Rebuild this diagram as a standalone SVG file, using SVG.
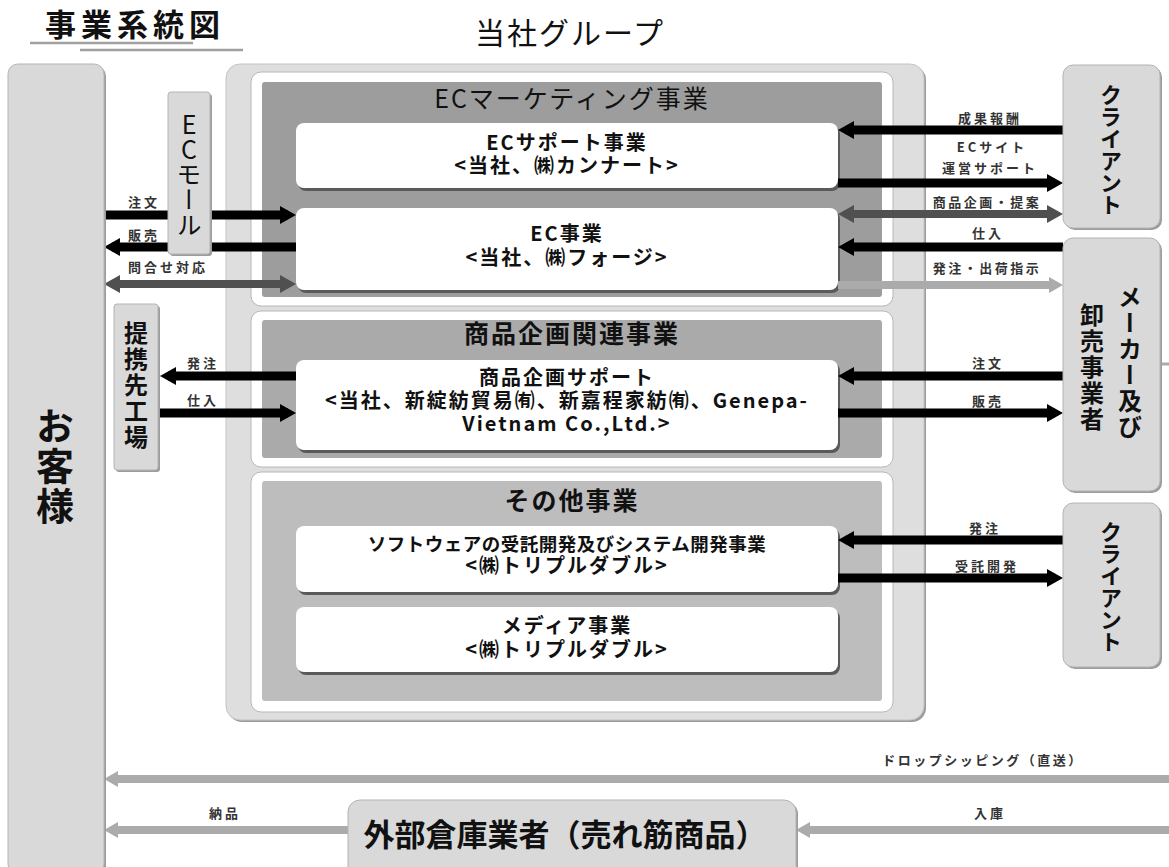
<svg xmlns="http://www.w3.org/2000/svg" width="1169" height="867" viewBox="0 0 1169 867">
<style>
text{font-family:"Noto Sans CJK JP","Noto Sans",sans-serif;fill:#111}
.vt{writing-mode:vertical-rl;text-orientation:upright;text-anchor:start}
.side{fill:#d9d9d9;stroke:#b4b4b4;stroke-width:1}
.sh{fill:#9c9c9c}
.wbox{fill:#fff}
.wsh{fill:#5a5a5a}
.bt{font-size:20px;font-weight:bold;text-anchor:middle;letter-spacing:2px}
.sec{font-size:25px;text-anchor:middle;letter-spacing:2px}
.lb{font-size:13px;font-weight:bold;fill:#333;text-anchor:middle;letter-spacing:3px}
.lb2{font-size:13px;font-weight:bold;fill:#333;text-anchor:middle;letter-spacing:2.5px}
.ab{stroke:#000;stroke-width:9;fill:none}
.ad{stroke:#505050;stroke-width:8;fill:none}
.al{stroke:#ababab;stroke-width:8;fill:none}
</style>
<defs>
<marker id="mB" markerUnits="userSpaceOnUse" markerWidth="16" markerHeight="18" refX="8" refY="9" orient="auto-start-reverse" viewBox="0 0 16 18"><path d="M0,0 L16,9 L0,18 z" fill="#000"/></marker>
<marker id="mD" markerUnits="userSpaceOnUse" markerWidth="16" markerHeight="18" refX="8" refY="9" orient="auto-start-reverse" viewBox="0 0 16 18"><path d="M0,0 L16,9 L0,18 z" fill="#505050"/></marker>
<marker id="mL" markerUnits="userSpaceOnUse" markerWidth="14" markerHeight="16" refX="7" refY="8" orient="auto-start-reverse" viewBox="0 0 14 16"><path d="M0,0 L14,8 L0,16 z" fill="#ababab"/></marker>
</defs>
<rect width="1169" height="867" fill="#fff"/>

<g id="title">
<text x="45" y="36" style="font-size:31px;font-weight:bold;letter-spacing:5px">事業系統図</text>
<line x1="30" y1="43" x2="193" y2="43" stroke="#a0a0a0" stroke-width="2.5"/>
<line x1="80" y1="50" x2="243" y2="50" stroke="#a0a0a0" stroke-width="2.5"/>
</g>

<g id="group-company">
<rect x="228" y="66" width="698" height="656" rx="14" class="sh"/>
<rect x="226" y="64" width="698" height="656" rx="14" fill="#dedede" stroke="#c4c4c4"/>
<text x="570" y="44" style="font-size:30px;text-anchor:middle;letter-spacing:2px">当社グループ</text>
</g>

<g id="sec-ec">
<rect x="251" y="72" width="642" height="234" rx="10" fill="#fff" stroke="#b8b8b8"/>
<rect x="262" y="82" width="620" height="215" rx="3" fill="#9d9d9d"/>
<text x="572" y="108" class="sec">ECマーケティング事業</text>
</g>
<g id="sec-plan">
<rect x="251" y="311" width="642" height="156" rx="10" fill="#fff" stroke="#b8b8b8"/>
<rect x="262" y="320" width="620" height="138" rx="3" fill="#aaaaaa"/>
<text x="572" y="343" class="sec" style="font-weight:bold">商品企画関連事業</text>
</g>
<g id="sec-other">
<rect x="251" y="472" width="642" height="240" rx="10" fill="#fff" stroke="#b8b8b8"/>
<rect x="262" y="481" width="620" height="220" rx="3" fill="#bdbdbd"/>
<text x="572" y="510" class="sec" style="font-weight:bold">その他事業</text>
</g>

<g id="ec-support">
<rect x="298" y="126" width="542" height="65" rx="8" class="wsh"/>
<rect x="296" y="123" width="542" height="65" rx="8" class="wbox"/>
<text class="bt"><tspan x="567" y="150">ECサポート事業</tspan><tspan x="567" y="173">&lt;当社、㈱カンナート&gt;</tspan></text>
</g>
<g id="ec-business">
<rect x="298" y="211" width="542" height="82" rx="8" class="wsh"/>
<rect x="296" y="208" width="542" height="82" rx="8" class="wbox"/>
<text class="bt"><tspan x="567" y="241">EC事業</tspan><tspan x="567" y="265">&lt;当社、㈱フォージ&gt;</tspan></text>
</g>
<g id="plan-support">
<rect x="298" y="363" width="542" height="90" rx="8" class="wsh"/>
<rect x="296" y="360" width="542" height="90" rx="8" class="wbox"/>
<text class="bt"><tspan x="567" y="385">商品企画サポート</tspan><tspan x="567" y="408">&lt;当社、新綻紡貿易㈲、新嘉程家紡㈲、Genepa-</tspan><tspan x="567" y="431">Vietnam Co.,Ltd.&gt;</tspan></text>
</g>
<g id="software">
<rect x="298" y="529" width="542" height="66" rx="8" class="wsh"/>
<rect x="296" y="526" width="542" height="66" rx="8" class="wbox"/>
<text class="bt"><tspan x="567" y="551" style="font-size:18.5px;letter-spacing:0.5px">ソフトウェアの受託開発及びシステム開発事業</tspan><tspan x="567" y="573">&lt;㈱トリプルダブル&gt;</tspan></text>
</g>
<g id="media">
<rect x="298" y="610" width="542" height="65" rx="8" class="wsh"/>
<rect x="296" y="607" width="542" height="65" rx="8" class="wbox"/>
<text class="bt"><tspan x="567" y="633">メディア事業</tspan><tspan x="567" y="657">&lt;㈱トリプルダブル&gt;</tspan></text>
</g>

<g id="connectors">
<line x1="1063" y1="130" x2="846" y2="130" class="ab" marker-end="url(#mB)"/>
<line x1="838" y1="183" x2="1055" y2="183" class="ab" marker-end="url(#mB)"/>
<line x1="846" y1="214" x2="1055" y2="214" class="ad" marker-start="url(#mD)" marker-end="url(#mD)"/>
<line x1="1063" y1="247" x2="846" y2="247" class="ab" marker-end="url(#mB)"/>
<line x1="838" y1="285" x2="1056" y2="285" class="al" marker-end="url(#mL)"/>
<line x1="104" y1="215" x2="288" y2="215" class="ab" marker-end="url(#mB)"/>
<line x1="296" y1="247" x2="112" y2="247" class="ab" marker-end="url(#mB)"/>
<line x1="112" y1="284" x2="288" y2="284" class="ad" marker-start="url(#mD)" marker-end="url(#mD)"/>
<line x1="296" y1="376" x2="168" y2="376" class="ab" marker-end="url(#mB)"/>
<line x1="160" y1="413" x2="288" y2="413" class="ab" marker-end="url(#mB)"/>
<line x1="1063" y1="376" x2="846" y2="376" class="ab" marker-end="url(#mB)"/>
<line x1="838" y1="413" x2="1055" y2="413" class="ab" marker-end="url(#mB)"/>
<line x1="1063" y1="540" x2="846" y2="540" class="ab" marker-end="url(#mB)"/>
<line x1="838" y1="578" x2="1055" y2="578" class="ab" marker-end="url(#mB)"/>
<line x1="1169" y1="779" x2="111" y2="779" class="al" marker-end="url(#mL)"/>
<line x1="348" y1="830" x2="111" y2="830" class="al" marker-end="url(#mL)"/>
<line x1="1169" y1="830" x2="803" y2="830" class="al" marker-end="url(#mL)"/>
<line x1="1160" y1="364" x2="1169" y2="364" stroke="#ababab" stroke-width="3"/>
<text x="990" y="123" class="lb">成果報酬</text>
<text class="lb"><tspan x="992" y="152">ECサイト</tspan><tspan x="990" y="173">運営サポート</tspan></text>
<text x="987" y="207" class="lb2">商品企画・提案</text>
<text x="988" y="238" class="lb">仕入</text>
<text x="987" y="273" class="lb2">発注・出荷指示</text>
<text x="144" y="207" class="lb">注文</text>
<text x="144" y="240" class="lb">販売</text>
<text x="168" y="272" class="lb">問合せ対応</text>
<text x="203" y="368" class="lb">発注</text>
<text x="203" y="405" class="lb">仕入</text>
<text x="988" y="368" class="lb">注文</text>
<text x="988" y="406" class="lb">販売</text>
<text x="985" y="533" class="lb">発注</text>
<text x="987" y="571" class="lb">受託開発</text>
<text x="983" y="765" class="lb2">ドロップシッピング（直送）</text>
<text x="225" y="818" class="lb">納品</text>
<text x="990" y="818" class="lb">入庫</text>
</g>

<g id="customer">
<rect x="10" y="66" width="96" height="810" rx="10" class="sh"/>
<rect x="8" y="64" width="96" height="810" rx="10" class="side"/>
<text x="55" y="407" class="vt" style="font-size:38px;font-weight:bold;letter-spacing:2px">お客様</text>
</g>
<g id="ec-mall">
<rect x="170" y="94" width="42" height="162" rx="3" class="sh"/>
<rect x="168" y="92" width="42" height="162" rx="3" class="side"/>
<text x="189" y="112" class="vt" style="font-size:25px">ECモール</text>
</g>
<g id="partner-factory">
<rect x="116" y="306" width="44" height="166" rx="3" class="sh"/>
<rect x="114" y="304" width="44" height="166" rx="3" class="side"/>
<text x="136" y="321" class="vt" style="font-size:24px;font-weight:bold;letter-spacing:2px">提携先工場</text>
</g>
<g id="client1">
<rect x="1065" y="67" width="97" height="163" rx="10" class="sh"/>
<rect x="1063" y="65" width="97" height="163" rx="10" class="side"/>
<text x="1111" y="84" class="vt" style="font-size:22px;font-weight:bold">クライアント</text>
</g>
<g id="maker">
<rect x="1065" y="240" width="97" height="253" rx="10" class="sh"/>
<rect x="1063" y="238" width="97" height="253" rx="10" class="side"/>
<text x="1130" y="285" class="vt" style="font-size:24px;font-weight:bold;letter-spacing:2px">メーカー及び</text>
<text x="1092" y="303" class="vt" style="font-size:24px;font-weight:bold;letter-spacing:2px">卸売事業者</text>
</g>
<g id="client2">
<rect x="1065" y="505" width="97" height="164" rx="10" class="sh"/>
<rect x="1063" y="503" width="97" height="164" rx="10" class="side"/>
<text x="1111" y="521" class="vt" style="font-size:22px;font-weight:bold">クライアント</text>
</g>
<g id="warehouse">
<rect x="350" y="802" width="448" height="80" rx="12" class="sh"/>
<rect x="348" y="800" width="448" height="80" rx="12" class="side"/>
<text x="565" y="846" style="font-size:31px;font-weight:bold;text-anchor:middle">外部倉庫業者（売れ筋商品）</text>
</g>
</svg>
